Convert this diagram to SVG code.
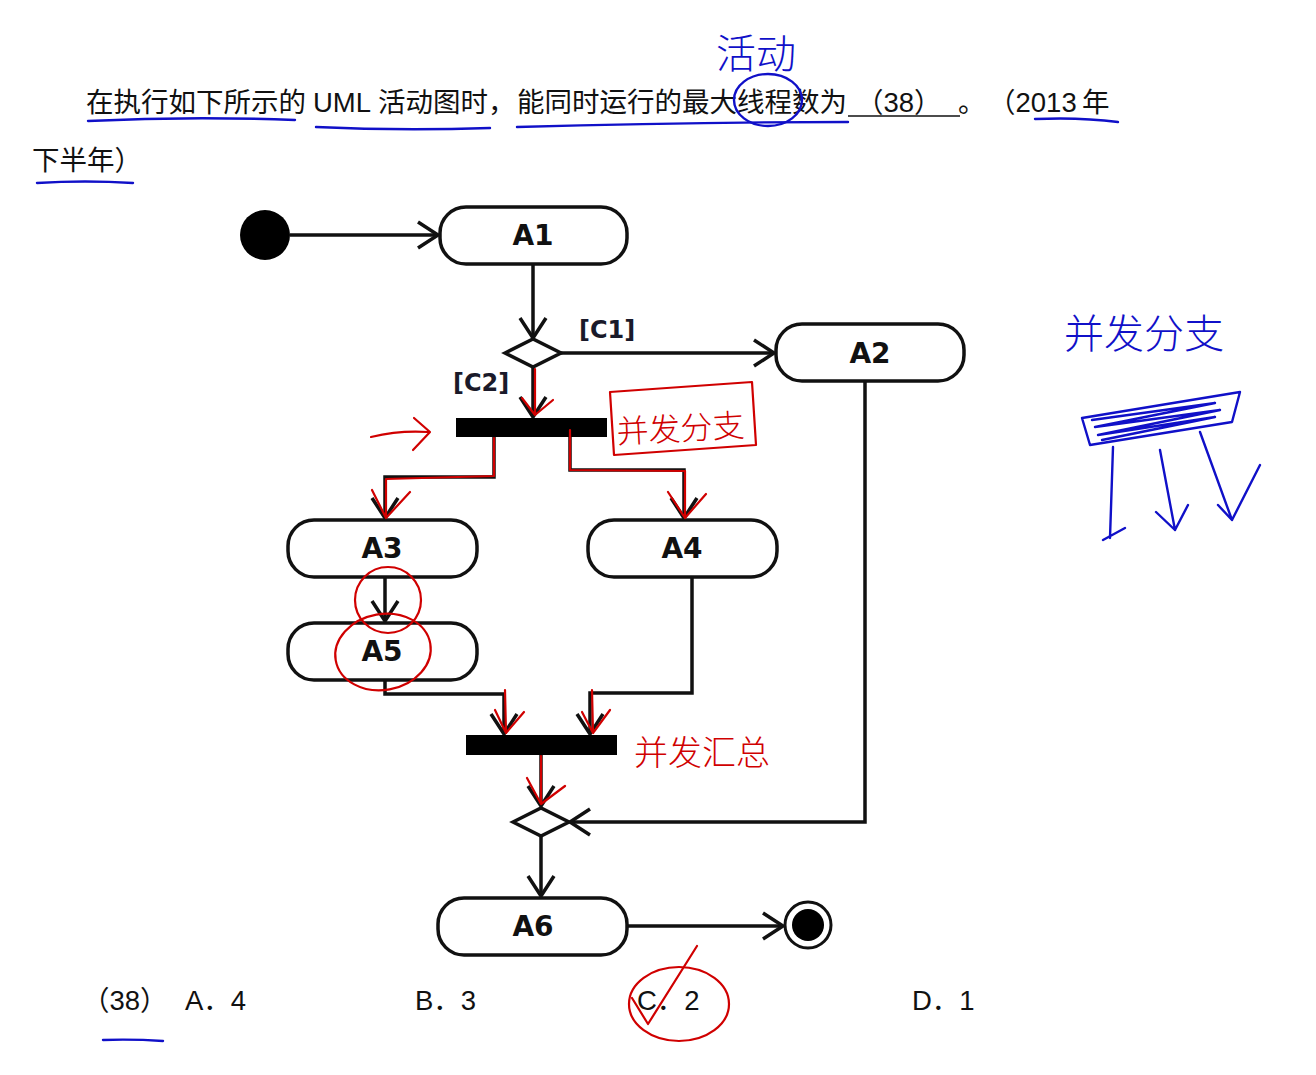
<svg xmlns="http://www.w3.org/2000/svg" width="1316" height="1075" viewBox="0 0 1316 1075">
<defs>
<style>
.q{font-family:"Liberation Sans","Noto Sans CJK SC",sans-serif;font-size:27.5px;fill:#111}
.node rect{fill:#fff;stroke:#111;stroke-width:3.5}
.lbl{font-family:"DejaVu Sans",sans-serif;font-weight:bold;font-size:28px;fill:#111;text-anchor:middle}
.guard{font-family:"DejaVu Sans",sans-serif;font-weight:bold;font-size:24px;fill:#1a1a2a}
.ln{fill:none;stroke:#111;stroke-width:3.5}
.ah{fill:none;stroke:#111;stroke-width:3.5;stroke-linejoin:miter}
.red{fill:none;stroke:#d00000;stroke-width:2.2;stroke-linecap:round;stroke-linejoin:round}
.blue{fill:none;stroke:#1010c8;stroke-width:2.4;stroke-linecap:round;stroke-linejoin:round}
.rt{font-family:"Noto Sans CJK SC",sans-serif;font-weight:300;fill:#d00000}
.bt{font-family:"Noto Sans CJK SC",sans-serif;font-weight:300;fill:#1010c8}
</style>
</defs>
<rect width="1316" height="1075" fill="#fff"/>

<!-- question text -->
<text class="q" y="112"><tspan x="86">在执行如下所示的</tspan><tspan x="313">UML</tspan><tspan x="378">活动图时，</tspan><tspan x="517">能同时运行的最大线程数为</tspan><tspan x="856">（38）</tspan><tspan x="958">。</tspan><tspan x="988">（2013</tspan><tspan x="1082">年</tspan></text>
<line x1="848" y1="116" x2="960" y2="116" stroke="#111" stroke-width="1.5"/>
<text class="q" x="32" y="170">下半年）</text>

<!-- connectors -->
<g id="connectors">
<line class="ln" x1="290" y1="235" x2="438" y2="235"/>
<polyline class="ah" points="418,222 438,235 418,248"/>
<line class="ln" x1="533" y1="264" x2="533" y2="338"/>
<polyline class="ah" points="520,318 533,338 546,318"/>
<line class="ln" x1="561" y1="353" x2="774" y2="353"/>
<polyline class="ah" points="754,340 774,353 754,366"/>
<line class="ln" x1="533" y1="367" x2="533" y2="417"/>
<polyline class="ah" points="520,397 533,417 546,397"/>
<polyline class="ln" points="494,437 494,477 385,477 385,518"/>
<polyline class="ah" points="372,498 385,518 398,498"/>
<polyline class="ln" points="570,437 570,470 684,470 684,518"/>
<polyline class="ah" points="671,498 684,518 697,498"/>
<line class="ln" x1="385" y1="577" x2="385" y2="621"/>
<polyline class="ah" points="372,601 385,621 398,601"/>
<polyline class="ln" points="385,680 385,694 504,694 504,734"/>
<polyline class="ah" points="491,714 504,734 517,714"/>
<polyline class="ln" points="692,577 692,693 590,693 590,734"/>
<polyline class="ah" points="577,714 590,734 603,714"/>
<line class="ln" x1="541" y1="755" x2="541" y2="806"/>
<polyline class="ah" points="528,786 541,806 554,786"/>
<polyline class="ln" points="865,381 865,822 570,822"/>
<polyline class="ah" points="590,809 570,822 590,835"/>
<line class="ln" x1="541" y1="836" x2="541" y2="896"/>
<polyline class="ah" points="528,876 541,896 554,876"/>
<line class="ln" x1="627" y1="926" x2="783" y2="926"/>
<polyline class="ah" points="763,913 783,926 763,939"/>
<text class="guard" x="579" y="338">[C1]</text>
<text class="guard" x="453" y="391">[C2]</text>
</g>

<!-- nodes -->
<g id="start"><circle cx="265" cy="235" r="25" fill="#000"/></g>
<g id="A1" class="node"><rect x="440" y="207" width="187" height="57" rx="26"/><text class="lbl" x="533" y="245">A1</text></g>
<g id="decision1"><polygon points="505,353 533,339 561,353 533,367" fill="#fff" stroke="#111" stroke-width="3.5"/></g>
<g id="A2" class="node"><rect x="776" y="324" width="188" height="57" rx="26"/><text class="lbl" x="870" y="363">A2</text></g>
<g id="fork"><rect x="456" y="418" width="151" height="19" fill="#000"/></g>
<g id="A3" class="node"><rect x="288" y="520" width="189" height="57" rx="26"/><text class="lbl" x="382" y="558">A3</text></g>
<g id="A4" class="node"><rect x="588" y="520" width="189" height="57" rx="26"/><text class="lbl" x="682" y="558">A4</text></g>
<g id="A5" class="node"><rect x="288" y="623" width="189" height="57" rx="26"/><text class="lbl" x="382" y="661">A5</text></g>
<g id="join"><rect x="466" y="735" width="151" height="20" fill="#000"/></g>
<g id="decision2"><polygon points="513,822 541,808 569,822 541,836" fill="#fff" stroke="#111" stroke-width="3.5"/></g>
<g id="A6" class="node"><rect x="438" y="898" width="189" height="57" rx="26"/><text class="lbl" x="533" y="936">A6</text></g>
<g id="end"><circle cx="808" cy="925" r="23" fill="#fff" stroke="#111" stroke-width="3"/><circle cx="808" cy="925" r="16" fill="#000"/></g>

<!-- answers -->
<text class="q" y="1010"><tspan x="82">（38）</tspan><tspan x="185">A．4</tspan><tspan x="415">B．3</tspan><tspan x="637">C．2</tspan><tspan x="912">D．1</tspan></text>

<!-- red annotations -->
<g id="red-notes">
<path class="red" d="M371,437 Q400,430 428,432 M414,418 L430,432 L413,450"/>
<path class="red" d="M535,369 L535,414 M522,398 L535,415 L553,400"/>
<path class="red" d="M494,438 L494,476 L386,479 L386,518 M372,490 L386,518 L410,492"/>
<path class="red" d="M570,430 L570,470 L685,471 L685,518 M668,492 L685,518 L706,494"/>
<path class="red" d="M610,392 L752,382 L756,445 L614,455 Z"/>
<text class="rt" x="616" y="440" font-size="32" transform="rotate(-3 680 420)">并发分支</text>
<ellipse class="red" cx="388" cy="600" rx="33" ry="33"/>
<ellipse class="red" cx="383" cy="652" rx="48" ry="38" transform="rotate(-10 383 652)"/>
<path class="red" d="M505,690 L506,733 M495,710 L506,733 L524,712"/>
<path class="red" d="M592,690 L593,733 M582,712 L593,733 L610,710"/>
<path class="red" d="M541,756 L541,804 M527,778 L541,804 L565,786"/>
<text class="rt" x="634" y="765" font-size="34">并发汇总</text>
<ellipse class="red" cx="679" cy="1004" rx="50" ry="37"/>
<path class="red" d="M632,998 L648,1024 L697,946"/>
</g>

<!-- blue annotations -->
<g id="blue-notes">
<path class="blue" d="M88,121 Q190,116 295,120"/>
<path class="blue" d="M316,127 Q400,131 490,128"/>
<path class="blue" d="M517,127 Q690,122 848,122"/>
<path class="blue" d="M1035,119 Q1080,117 1118,122"/>
<path class="blue" d="M37,183 Q85,180 133,183"/>
<path class="blue" d="M103,1040 Q133,1039 163,1041"/>
<ellipse class="blue" cx="768" cy="100" rx="34" ry="26"/>
<text class="bt" x="716" y="68" font-size="40">活动</text>
<text class="bt" x="1064" y="348" font-size="40">并发分支</text>
<path class="blue" d="M1082,418 L1240,392 L1232,422 L1090,445 Z"/>
<path class="blue" d="M1092,420 L1215,403 L1095,427 L1220,410 L1098,435 L1215,417 L1102,440"/>
<path class="blue" d="M1113,447 L1110,538 M1103,540 L1125,528"/>
<path class="blue" d="M1160,450 L1175,530 M1156,512 L1175,530 L1188,505"/>
<path class="blue" d="M1200,432 L1232,520 M1218,505 L1232,520 L1260,465"/>
</g>
</svg>
